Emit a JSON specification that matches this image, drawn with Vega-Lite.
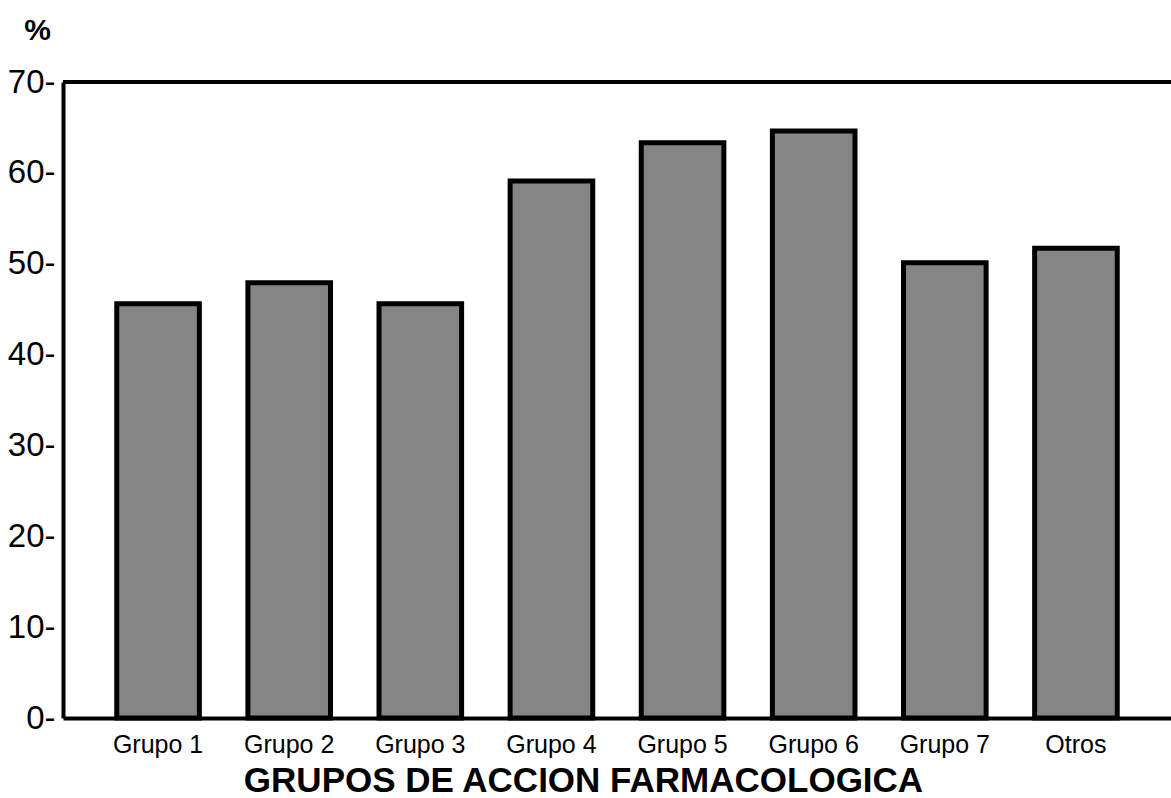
{
  "$schema": "https://vega.github.io/schema/vega-lite/v6.json",
  "width": 1108,
  "height": 636,
  "autosize": {"type": "none"},
  "padding": {"left": 63, "top": 82, "right": 0, "bottom": 80},
  "background": "white",
  "config": {"view": {"stroke": null}, "font": "Liberation Sans"},
  "data": {"values": [
    {"grupo": "Grupo 1", "pct": 45.6},
    {"grupo": "Grupo 2", "pct": 47.9},
    {"grupo": "Grupo 3", "pct": 45.6},
    {"grupo": "Grupo 4", "pct": 59.1},
    {"grupo": "Grupo 5", "pct": 63.3},
    {"grupo": "Grupo 6", "pct": 64.6},
    {"grupo": "Grupo 7", "pct": 50.1},
    {"grupo": "Otros", "pct": 51.7}
  ]},
  "layer": [
    {
      "mark": {"type": "bar", "fill": "#858585", "stroke": "black", "strokeWidth": 5, "strokeJoin": "miter"},
      "encoding": {
        "x": {
          "field": "grupo", "type": "nominal", "sort": null,
          "scale": {"paddingInner": 0.37, "paddingOuter": 0.41},
          "axis": {
            "domain": true, "domainColor": "black", "domainWidth": 4,
            "ticks": false, "labelAngle": 0,
            "labelFontSize": 25, "labelColor": "black", "labelPadding": 14,
            "title": "GRUPOS DE ACCION FARMACOLOGICA",
            "titleFontSize": 35, "titleFontWeight": "bold", "titleColor": "black",
            "titleX": 520, "titleY": 73, "titleAlign": "center", "titleBaseline": "alphabetic"
          }
        },
        "y": {
          "field": "pct", "type": "quantitative",
          "scale": {"domain": [0, 70], "nice": false},
          "axis": {
            "values": [0, 10, 20, 30, 40, 50, 60, 70],
            "grid": false, "ticks": false,
            "domain": true, "domainColor": "black", "domainWidth": 4,
            "labelExpr": "datum.label + '-'",
            "labelFontSize": 33, "labelColor": "black", "labelPadding": 8,
            "title": "%", "titleAngle": 0, "titleFontSize": 30, "titleFontWeight": "bold", "titleColor": "black",
            "titleX": -26, "titleY": -43, "titleAlign": "center", "titleBaseline": "alphabetic"
          }
        }
      }
    },
    {
      "mark": {"type": "rule", "stroke": "black", "strokeWidth": 3.5},
      "encoding": {"y": {"datum": 70}}
    }
  ]
}
